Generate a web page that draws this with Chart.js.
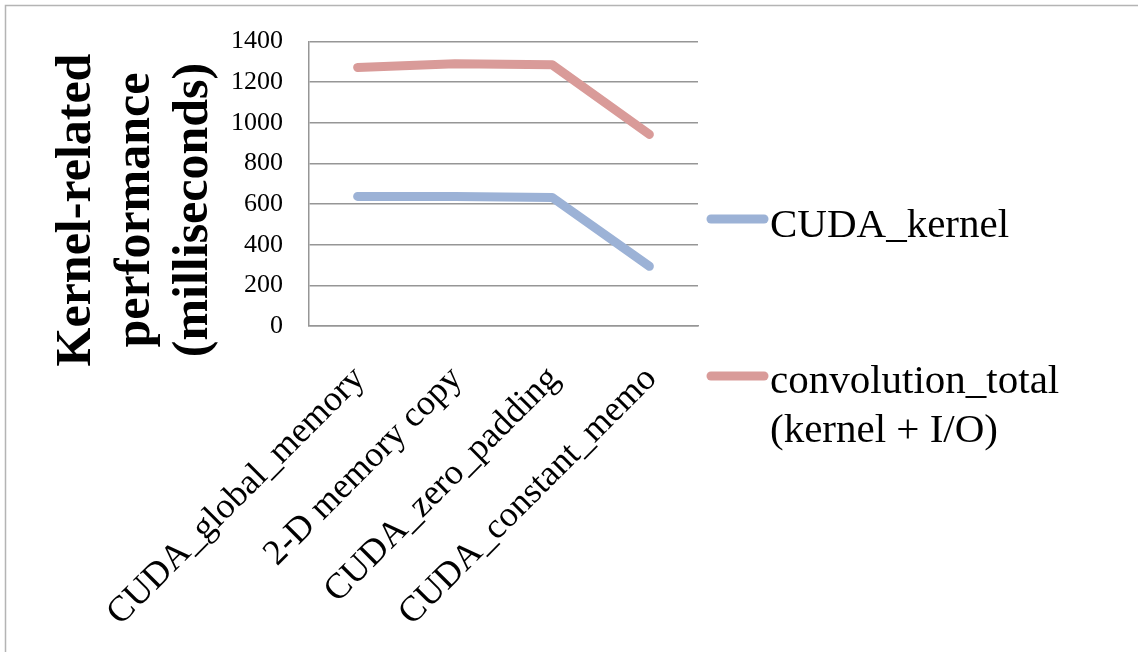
<!DOCTYPE html>
<html>
<head>
<meta charset="utf-8">
<script src="https://cdn.jsdelivr.net/npm/chart.js@4.4.1/dist/chart.umd.min.js"></script>
<style>
  html, body { margin: 0; padding: 0; background: #ffffff; }
  #wrap { position: relative; width: 1138px; height: 652px; }
  canvas { display: block; }
</style>
</head>
<body>
<div id="wrap"><canvas id="c" width="1138" height="652"></canvas></div>
<script>
// ---- data ----
const categories = ["CUDA_global_memory", "2-D memory copy", "CUDA_zero_padding", "CUDA_constant_memo"];
const cudaKernel = [638, 638, 633, 294];
const convolutionTotal = [1273, 1291, 1286, 943];
const seriesNames = ["CUDA_kernel", ["convolution_total", "(kernel + I/O)"]];
const yTitleLines = ["Kernel-related", "performance", "(milliseconds)"];
const yMin = 0, yMax = 1400, yStep = 200;

const SERIF = "'Liberation Serif', 'Times New Roman', serif";
const BLUE = "#9cb2d6";
const RED = "#d99b99";
const GRID = "#969696";

// frame + title + legend drawn with canvas text
const decorPlugin = {
  id: "decor",
  beforeDraw(chart) {
    const ctx = chart.ctx;
    ctx.save();
    ctx.fillStyle = "#ffffff";
    ctx.fillRect(0, 0, chart.width, chart.height);
    ctx.strokeStyle = "#b4b4b4";
    ctx.lineWidth = 1.5;
    ctx.beginPath();
    ctx.moveTo(5.5, chart.height + 5);
    ctx.lineTo(5.5, 5.5);
    ctx.lineTo(chart.width + 5, 5.5);
    ctx.stroke();
    ctx.restore();
  },
  afterDraw(chart) {
    const ctx = chart.ctx;
    // y axis title
    ctx.save();
    ctx.fillStyle = "#000";
    ctx.font = "bold 50px " + SERIF;
    ctx.textAlign = "center";
    ctx.textBaseline = "alphabetic";
    const baselines = [90, 149, 207];
    yTitleLines.forEach((t, i) => {
      ctx.save();
      ctx.translate(baselines[i], 210);
      ctx.rotate(-Math.PI / 2);
      ctx.fillText(t, 0, 0);
      ctx.restore();
    });
    ctx.restore();

    // legend
    ctx.save();
    const items = [
      { y: 219, textY: [237], ds: chart.data.datasets[0] },
      { y: 376, textY: [393, 442], ds: chart.data.datasets[1] }
    ];
    items.forEach(it => {
      ctx.strokeStyle = it.ds.borderColor;
      ctx.lineWidth = 9;
      ctx.lineCap = "round";
      ctx.beginPath();
      ctx.moveTo(711, it.y);
      ctx.lineTo(764, it.y);
      ctx.stroke();
      ctx.fillStyle = "#000";
      ctx.font = "41px " + SERIF;
      ctx.textAlign = "left";
      ctx.textBaseline = "alphabetic";
      const lines = Array.isArray(it.ds.label) ? it.ds.label : [it.ds.label];
      lines.forEach((l, i) => ctx.fillText(l, 770, it.textY[i]));
    });
    ctx.restore();
  }
};

new Chart(document.getElementById("c"), {
  type: "line",
  data: {
    labels: categories,
    datasets: [
      { label: seriesNames[0], data: cudaKernel, borderColor: BLUE, backgroundColor: BLUE,
        borderWidth: 9, pointRadius: 0, pointHoverRadius: 0, tension: 0,
        borderCapStyle: "round", borderJoinStyle: "round" },
      { label: seriesNames[1], data: convolutionTotal, borderColor: RED, backgroundColor: RED,
        borderWidth: 9, pointRadius: 0, pointHoverRadius: 0, tension: 0,
        borderCapStyle: "round", borderJoinStyle: "round" }
    ]
  },
  options: {
    responsive: false,
    animation: false,
    devicePixelRatio: 1,
    layout: { padding: { left: 0, top: 40, right: 1138 - 698, bottom: 0 } },
    plugins: {
      legend: { display: false },
      tooltip: { enabled: false },
      title: { display: false }
    },
    scales: {
      x: {
        type: "category",
        offset: true,
        grid: { display: false, drawTicks: false },
        border: { display: true, color: GRID, width: 1.5 },
        ticks: {
          autoSkip: false,
          minRotation: 45,
          maxRotation: 45,
          labelOffset: 2,
          padding: 32,
          color: "#000",
          font: { family: SERIF, size: 36 }
        },
        afterFit(scale) { scale.height = 326; }
      },
      y: {
        min: yMin,
        max: yMax,
        ticks: {
          stepSize: yStep,
          padding: 26,
          color: "#000",
          font: { family: SERIF, size: 26 },
          callback: (v) => String(v)
        },
        grid: { color: GRID, lineWidth: 1.5, drawTicks: false },
        border: { display: true, color: GRID, width: 1.5 },
        afterFit(scale) { scale.width = 309; }
      }
    }
  },
  plugins: [decorPlugin]
});
</script>
</body>
</html>
